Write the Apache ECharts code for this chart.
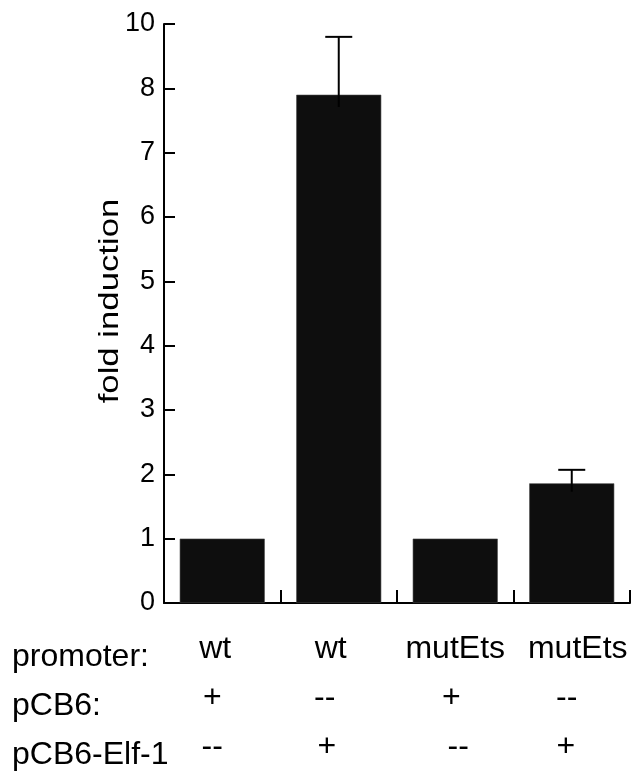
<!DOCTYPE html>
<html>
<head>
<meta charset="utf-8">
<script src="https://cdn.jsdelivr.net/npm/echarts@6/dist/echarts.min.js"></script>
<style>
html,body{margin:0;padding:0;background:#fff;}
#chart{width:632px;height:772px;}
</style>
</head>
<body>
<div id="chart"></div>
<script>
// ---- data (values in axis position units; top tick is labelled "10") ----
var promoter = ['wt', 'wt', 'mutEts', 'mutEts'];
var pCB6 = ['+', '--', '+', '--'];
var pCB6Elf1 = ['--', '+', '--', '+'];
var rowHeaders = ['promoter:', 'pCB6:', 'pCB6-Elf-1'];
var foldInduction = [1.0, 7.9, 1.0, 1.86];
var errLow = [null, 7.71, null, 1.73];
var errHigh = [null, 8.8, null, 2.07];
var yTickLabels = ['0', '1', '2', '3', '4', '5', '6', '7', '8', '10'];
var yAxisName = 'fold induction';

// ---- layout only: horizontal nudge (px) of each table cell relative to its bar ----
var cellShift = [
  [-7, -10, -10],
  [-8, -14, -12],
  [0, -4, 3],
  [6, -5, -6]
];

var FONT = '"Liberation Sans", Arial, sans-serif';
var chart = echarts.init(document.getElementById('chart'), null, {renderer: 'canvas'});

var catIdx = promoter.map(function (_, i) { return String(i); });
var errData = [];
for (var i = 0; i < foldInduction.length; i++) {
  if (errHigh[i] != null) errData.push([i, errLow[i], errHigh[i]]);
}

var rich = {};
function styleName(d) {
  var name = 's' + (d < 0 ? 'm' + (-d) : 'p' + d);
  if (!rich[name]) {
    rich[name] = {
      fontSize: 32, lineHeight: 49, color: '#000', fontFamily: FONT,
      padding: d < 0 ? [0, -2 * d, 0, 0] : [0, 0, 0, 2 * d]
    };
  }
  return name;
}
var labelTexts = catIdx.map(function (_, c) {
  var rows = [promoter[c], pCB6[c], pCB6Elf1[c]];
  return rows.map(function (t, r) {
    return '{' + styleName(cellShift[c][r]) + '|' + t + '}';
  }).join('\n');
});

var option = {
  animation: false,
  backgroundColor: '#fff',
  grid: {left: 164, right: 2, top: 24, bottom: 160, containLabel: false},
  xAxis: {
    type: 'category',
    data: catIdx,
    axisLine: {show: true, lineStyle: {color: '#000', width: 2}},
    axisTick: {show: true, inside: true, length: 13, lineStyle: {color: '#000', width: 2}},
    axisLabel: {
      interval: 0,
      margin: 22,
      fontSize: 32,
      lineHeight: 49,
      color: '#000',
      fontFamily: FONT,
      rich: rich,
      formatter: function (v) { return labelTexts[+v]; }
    },
    splitLine: {show: false}
  },
  yAxis: {
    type: 'value',
    min: 0, max: 9, interval: 1,
    axisLine: {show: true, lineStyle: {color: '#000', width: 2}},
    axisTick: {show: true, inside: true, length: 11, lineStyle: {color: '#000', width: 2}},
    axisLabel: {
      margin: 9, fontSize: 27, color: '#000', fontFamily: FONT,
      formatter: function (v) { return yTickLabels[Math.round(v)]; }
    },
    splitLine: {show: false}
  },
  graphic: [
    {type: 'text', x: 110, y: 301, rotation: Math.PI / 2, scaleX: 1.24,
     style: {text: yAxisName, fontSize: 28, fontFamily: FONT, fill: '#000', align: 'center', verticalAlign: 'middle'}},
    {type: 'text', x: 12, y: 657, style: {text: rowHeaders[0], fontSize: 32, fontFamily: FONT, fill: '#000', align: 'left', verticalAlign: 'middle'}},
    {type: 'text', x: 12, y: 706, style: {text: rowHeaders[1], fontSize: 32, fontFamily: FONT, fill: '#000', align: 'left', verticalAlign: 'middle'}},
    {type: 'text', x: 12, y: 755, style: {text: rowHeaders[2], fontSize: 32, fontFamily: FONT, fill: '#000', align: 'left', verticalAlign: 'middle'}}
  ],
  series: [
    {
      type: 'bar',
      data: foldInduction,
      barWidth: 85,
      itemStyle: {color: '#0e0e0e', borderColor: '#444', borderWidth: 0.6}
    },
    {
      type: 'custom',
      data: errData,
      z: 5,
      renderItem: function (params, api) {
        var x = api.value(0);
        var lo = api.coord([x, api.value(1)]);
        var hi = api.coord([x, api.value(2)]);
        var half = 13.5;
        var st = {stroke: '#000', lineWidth: 2};
        return {
          type: 'group',
          children: [
            {type: 'line', shape: {x1: hi[0], y1: hi[1], x2: lo[0], y2: lo[1]}, style: st},
            {type: 'line', shape: {x1: hi[0] - half, y1: hi[1], x2: hi[0] + half, y2: hi[1]}, style: st}
          ]
        };
      }
    }
  ]
};
chart.setOption(option);
</script>
</body>
</html>
